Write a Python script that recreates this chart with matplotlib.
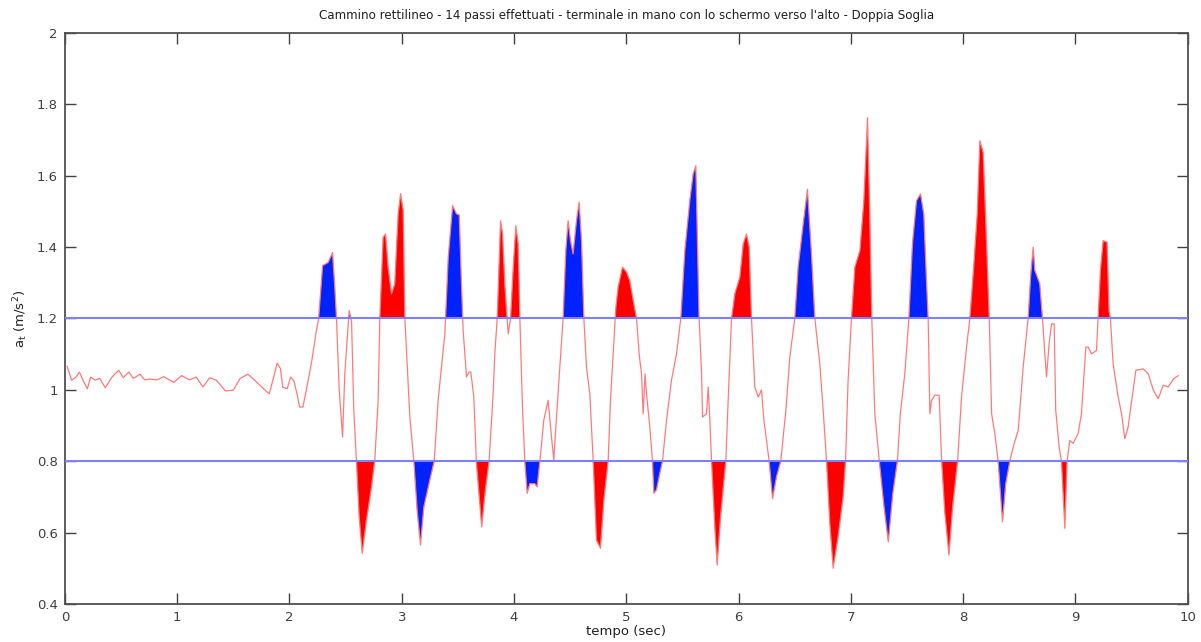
import matplotlib
matplotlib.use('Agg')
import matplotlib.pyplot as plt
import numpy as np

# tangential acceleration magnitude over time (walk, 14 steps)
t = [0.02, 0.06, 0.10, 0.13, 0.16, 0.20, 0.23, 0.27, 0.31, 0.36, 0.42, 0.48,
     0.52, 0.57, 0.61, 0.67, 0.71, 0.76, 0.82, 0.88, 0.97, 1.04, 1.11, 1.17,
     1.23, 1.29, 1.35, 1.43, 1.50, 1.56, 1.63, 1.69, 1.77, 1.82, 1.86, 1.89,
     1.92, 1.94, 1.98, 2.01, 2.04, 2.07, 2.09, 2.12, 2.15, 2.20, 2.24, 2.26,
     2.295, 2.345, 2.384, 2.404, 2.419, 2.443, 2.473, 2.493, 2.532, 2.553,
     2.573, 2.597, 2.621, 2.648, 2.686, 2.731, 2.760, 2.790, 2.805, 2.834,
     2.856, 2.879, 2.909, 2.938, 2.968, 2.990, 3.013, 3.028, 3.072, 3.108,
     3.137, 3.167, 3.197, 3.250, 3.289, 3.324, 3.384, 3.414, 3.453, 3.488,
     3.512, 3.532, 3.547, 3.577, 3.600, 3.615, 3.642, 3.664, 3.690, 3.712,
     3.745, 3.778, 3.814, 3.829, 3.850, 3.880, 3.898, 3.918, 3.948, 3.969,
     3.993, 4.016, 4.037, 4.052, 4.075, 4.096, 4.117, 4.141, 4.185, 4.206,
     4.230, 4.265, 4.304, 4.325, 4.354, 4.378, 4.408, 4.437, 4.461, 4.482,
     4.503, 4.526, 4.556, 4.580, 4.601, 4.622, 4.645, 4.675, 4.705, 4.734,
     4.770, 4.800, 4.838, 4.859, 4.883, 4.907, 4.927, 4.966, 5.002, 5.031,
     5.067, 5.091, 5.114, 5.135, 5.150, 5.167, 5.180, 5.209, 5.233, 5.245,
     5.269, 5.298, 5.322, 5.358, 5.402, 5.447, 5.485, 5.521, 5.565, 5.595,
     5.619, 5.634, 5.648, 5.670, 5.679, 5.714, 5.729, 5.744, 5.759, 5.788,
     5.809, 5.839, 5.886, 5.907, 5.937, 5.966, 6.011, 6.041, 6.070, 6.094,
     6.115, 6.144, 6.174, 6.204, 6.225, 6.272, 6.302, 6.338, 6.375, 6.421,
     6.456, 6.500, 6.530, 6.575, 6.613, 6.649, 6.679, 6.723, 6.753, 6.783,
     6.812, 6.842, 6.886, 6.931, 6.952, 6.975, 7.005, 7.035, 7.080, 7.115,
     7.148, 7.168, 7.186, 7.213, 7.253, 7.295, 7.333, 7.373, 7.414, 7.440,
     7.480, 7.516, 7.548, 7.584, 7.620, 7.649, 7.673, 7.688, 7.703, 7.718,
     7.747, 7.786, 7.808, 7.837, 7.873, 7.906, 7.950, 7.985, 8.030, 8.059,
     8.089, 8.125, 8.148, 8.178, 8.202, 8.232, 8.253, 8.282, 8.311, 8.350,
     8.379, 8.415, 8.445, 8.490, 8.534, 8.578, 8.600, 8.623, 8.638, 8.682,
     8.706, 8.727, 8.742, 8.765, 8.787, 8.810, 8.824, 8.854, 8.875, 8.905,
     8.925, 8.949, 8.979, 9.023, 9.053, 9.092, 9.113, 9.142, 9.187, 9.201,
     9.222, 9.246, 9.281, 9.299, 9.311, 9.335, 9.380, 9.410, 9.439, 9.469,
     9.500, 9.538, 9.603, 9.648, 9.692, 9.737, 9.781, 9.826, 9.871, 9.915]

acc = [1.066, 1.027, 1.036, 1.050, 1.028, 1.003, 1.036, 1.027, 1.032, 1.006, 1.036, 1.055,
       1.034, 1.050, 1.032, 1.044, 1.028, 1.030, 1.028, 1.037, 1.021, 1.040, 1.028, 1.036,
       1.008, 1.034, 1.027, 0.997, 0.999, 1.032, 1.044, 1.027, 1.003, 0.989, 1.036, 1.075,
       1.060, 1.008, 1.003, 1.036, 1.025, 0.985, 0.952, 0.952, 0.999, 1.083, 1.166, 1.200,
       1.348, 1.357, 1.385, 1.288, 1.200, 1.000, 0.868, 1.045, 1.222, 1.194,
       0.943, 0.798, 0.644, 0.542, 0.635, 0.728, 0.803, 0.971, 1.200, 1.427,
       1.437, 1.344, 1.269, 1.297, 1.493, 1.550, 1.502, 1.200, 0.924, 0.800,
       0.663, 0.565, 0.672, 0.747, 0.800, 0.971, 1.157, 1.371, 1.516, 1.493,
       1.490, 1.297, 1.166, 1.036, 1.050, 1.050, 0.980, 0.800, 0.700, 0.616,
       0.720, 0.800, 0.989, 1.101, 1.200, 1.474, 1.437, 1.297, 1.157, 1.200,
       1.344, 1.460, 1.409, 1.200, 0.952, 0.800, 0.710, 0.737, 0.737, 0.728,
       0.800, 0.915, 0.971, 0.896, 0.803, 0.924, 1.064, 1.200, 1.390, 1.474,
       1.418, 1.381, 1.474, 1.526, 1.418, 1.200, 1.064, 0.989, 0.800, 0.579,
       0.556, 0.691, 0.800, 0.971, 1.101, 1.232, 1.288, 1.344, 1.330, 1.306,
       1.241, 1.200, 1.101, 1.045, 0.933, 1.045, 0.989, 0.896, 0.800, 0.710,
       0.720, 0.766, 0.800, 0.915, 1.027, 1.101, 1.200, 1.390, 1.530, 1.605,
       1.628, 1.409, 1.200, 1.045, 0.924, 0.933, 1.008, 0.915, 0.800, 0.616,
       0.509, 0.644, 0.800, 0.971, 1.200, 1.269, 1.316, 1.409, 1.437, 1.400,
       1.200, 1.008, 0.980, 1.000, 0.915, 0.800, 0.695, 0.757, 0.800, 0.943,
       1.092, 1.200, 1.344, 1.465, 1.562, 1.381, 1.200, 1.073, 0.943, 0.800,
       0.626, 0.500, 0.589, 0.700, 0.800, 1.027, 1.200, 1.344, 1.390, 1.530,
       1.763, 1.493, 1.200, 0.933, 0.800, 0.672, 0.574, 0.709, 0.800, 0.933,
       1.045, 1.200, 1.409, 1.530, 1.549, 1.493, 1.306, 1.200, 0.933, 0.970,
       0.985, 0.985, 0.800, 0.654, 0.537, 0.672, 0.800, 0.980, 1.120, 1.200,
       1.325, 1.493, 1.698, 1.665, 1.465, 1.200, 0.933, 0.877, 0.800, 0.630,
       0.737, 0.800, 0.840, 0.887, 1.064, 1.200, 1.316, 1.400, 1.335, 1.297,
       1.200, 1.100, 1.036, 1.130, 1.185, 1.185, 0.943, 0.840, 0.800, 0.612,
       0.800, 0.858, 0.850, 0.877, 0.933, 1.120, 1.120, 1.101, 1.110, 1.200,
       1.335, 1.418, 1.414, 1.220, 1.200, 1.073, 0.980, 0.933, 0.863, 0.896,
       0.970, 1.055, 1.059, 1.045, 1.000, 0.975, 1.013, 1.008, 1.030, 1.040]

soglia_alta = 1.2
soglia_bassa = 0.8

yticks = [0.4, 0.6, 0.8, 1.0, 1.2, 1.4, 1.6, 1.8, 2.0]
ytick_labels = ['0.4', '0.6', '0.8', '1', '1.2', '1.4', '1.6', '1.8', '2']
xticks = list(range(0, 11))

t = np.array(t)
acc = np.array(acc)

# step counter: a new step starts at each lower crossing that follows an upper one
above = acc > soglia_alta
below = acc < soglia_bassa
passo = np.zeros(len(acc), dtype=int)
n = 0
ultimo = None
for i in range(len(acc)):
    if below[i]:
        if ultimo == 'alto':
            n += 1
        ultimo = 'basso'
    elif above[i]:
        ultimo = 'alto'
    passo[i] = n
pari = passo % 2 == 0

plt.rcParams['font.family'] = ['DejaVu Sans']

fig = plt.figure(figsize=(12.01, 6.42), dpi=100)
ax = fig.add_axes([0.054, 0.0592, 0.935, 0.8894])

blu = '#0022ff'
rosso = '#ff0000'
ax.fill_between(t, acc, soglia_alta, where=above & pari, interpolate=True,
                color=blu, lw=0, zorder=1)
ax.fill_between(t, acc, soglia_alta, where=above & ~pari, interpolate=True,
                color=rosso, lw=0, zorder=1)
ax.fill_between(t, acc, soglia_bassa, where=below & pari, interpolate=True,
                color=blu, lw=0, zorder=1)
ax.fill_between(t, acc, soglia_bassa, where=below & ~pari, interpolate=True,
                color=rosso, lw=0, zorder=1)

ax.plot(t, acc, color='#ff7a7a', lw=0.9, zorder=2)
ax.axhline(soglia_alta, color='#8080ff', lw=1.5, zorder=3)
ax.axhline(soglia_bassa, color='#8080ff', lw=1.5, zorder=3)

ax.set_xlim(0, 10)
ax.set_ylim(0.4, 2)
ax.set_xticks(xticks)
ax.set_yticks(yticks)
ax.set_yticklabels(ytick_labels)
ax.tick_params(direction='in', length=8, width=1, colors='#404040',
               labelsize=9.5, top=True, right=True, pad=5)
for s in ax.spines.values():
    s.set_color('#505050')
    s.set_linewidth(1.3)

ax.set_title("Cammino rettilineo - 14 passi effettuati - terminale in mano con lo schermo verso l'alto - Doppia Soglia",
             fontsize=8.6, color='#202020', pad=10)
ax.set_xlabel('tempo (sec)', fontsize=9.5, color='#202020', labelpad=1)
ax.set_ylabel(r'a$_{\rm t}$ (m/s$^2$)', fontsize=9.5, color='#202020', labelpad=5)

fig.savefig('out.png', dpi=100)
